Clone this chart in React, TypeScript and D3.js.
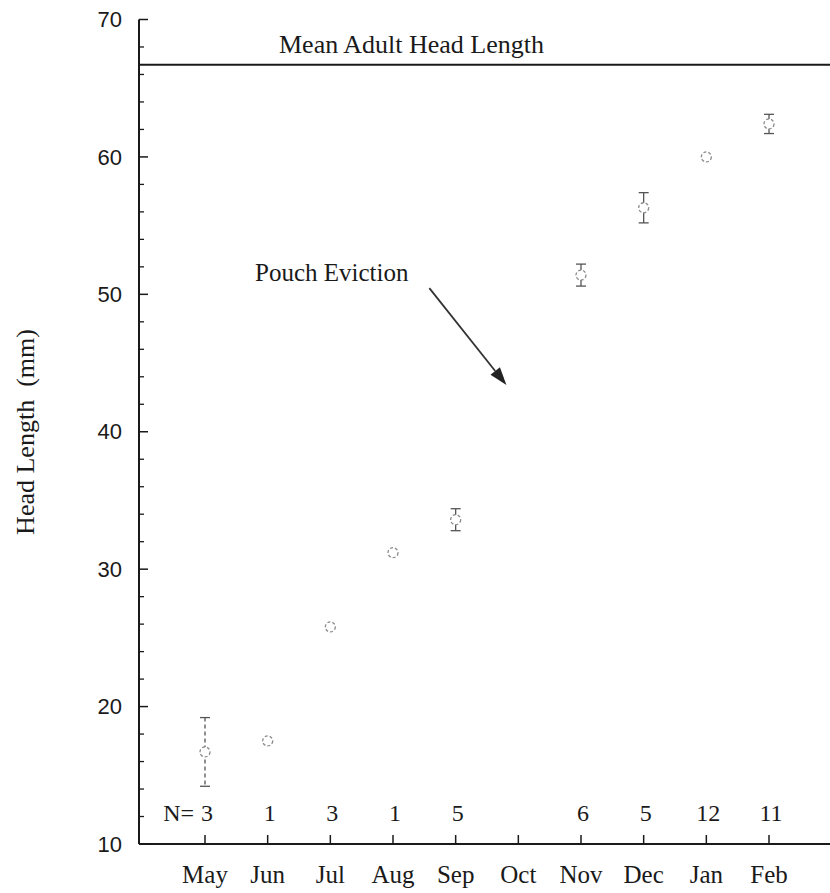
import React from "react";
import * as d3 from "d3";

const months = ["May", "Jun", "Jul", "Aug", "Sep", "Oct", "Nov", "Dec", "Jan", "Feb"];
const meanValues: (number | null)[] = [16.7, 17.5, 25.8, 31.2, 33.6, null, 51.4, 56.3, 60.0, 62.4];
const errValues: (number | null)[] = [2.5, 0, 0.2, 0.15, 0.8, null, 0.8, 1.1, 0.2, 0.7];
const nValues: string[] = ["3", "1", "3", "1", "5", "", "6", "5", "12", "11"];
const yTicks = [10, 20, 30, 40, 50, 60, 70];
const yMinorTicks = d3.range(10, 70, 2);
const adultMean = 66.7;
const arrowFrom = { idx: 3.58, value: 50.45 };
const arrowTo = { idx: 4.81, value: 43.4 };

export default function App() {
  const W = 830, H = 893;
  const axisX = 139;
  const y = d3.scaleLinear().domain([10, 70]).range([844, 19.5]);
  const x = d3.scalePoint<string>().domain(months).range([205, 769]);
  const step = x.step();
  const xi = (i: number) => (x(months[0]) as number) + i * step;
  const serif = "'Liberation Serif', 'Times New Roman', serif";
  const sans = "'Liberation Sans', Arial, sans-serif";
  const ink = "#1a1a1a";

  const ax1 = xi(arrowFrom.idx), ay1 = y(arrowFrom.value);
  const ax2 = xi(arrowTo.idx), ay2 = y(arrowTo.value);
  const ang = Math.atan2(ay2 - ay1, ax2 - ax1);
  const hl = 18, hw = 6;
  const bx = ax2 - hl * Math.cos(ang), by = ay2 - hl * Math.sin(ang);
  const px = -Math.sin(ang), py = Math.cos(ang);
  const head = `M${ax2},${ay2} L${bx + px * hw},${by + py * hw} L${bx - px * hw},${by - py * hw} Z`;

  return (
    <div style={{ position: "absolute", left: 0, top: 0 }}>
      <svg width={W} height={H} style={{ display: "block", background: "#fff" }}>
        {/* axes */}
        <line x1={axisX} x2={axisX} y1={y(70)} y2={y(10)} stroke={ink} strokeWidth={2} />
        <line x1={axisX} x2={W} y1={y(10)} y2={y(10)} stroke={ink} strokeWidth={2} />
        {yTicks.map((t) => (
          <g key={t}>
            <line x1={axisX} x2={axisX + 9} y1={y(t)} y2={y(t)} stroke={ink} strokeWidth={1.5} />
            <text x={122} y={y(t)} dy="0.35em" textAnchor="end" fontFamily={sans} fontSize={22} fill={ink}>{t}</text>
          </g>
        ))}
        {yMinorTicks.filter((t) => t % 10 !== 0).map((t) => (
          <line key={t} x1={axisX - 1} x2={axisX + 5} y1={y(t)} y2={y(t)} stroke={ink} strokeWidth={1.3} />
        ))}
        {months.map((m) => (
          <g key={m}>
            <line x1={x(m)} x2={x(m)} y1={y(10)} y2={y(10) - 9} stroke={ink} strokeWidth={1.5} />
            <text x={x(m)} y={883} textAnchor="middle" fontFamily={serif} fontSize={25} fill={ink}>{m}</text>
          </g>
        ))}
        {/* N labels */}
        <text x={194} y={821} textAnchor="end" fontFamily={serif} fontSize={24} fill={ink}>N=</text>
        {months.map((m, i) => nValues[i] ? (
          <text key={"n" + m} x={(x(m) as number) + 2} y={821} textAnchor="middle" fontFamily={serif} fontSize={24} fill={ink}>{nValues[i]}</text>
        ) : null)}
        {/* mean adult line */}
        <line x1={axisX} x2={W} y1={y(adultMean)} y2={y(adultMean)} stroke={ink} strokeWidth={2} />
        <text x={279} y={53} fontFamily={serif} fontSize={26} fill={ink}>Mean Adult Head Length</text>
        {/* y title */}
        <text transform={`translate(34,${432}) rotate(-90)`} textAnchor="middle" fontFamily={serif} fontSize={26} fill={ink}>{"Head Length\u00a0\u00a0(mm)"}</text>
        {/* data */}
        {months.map((m, i) => {
          const v = meanValues[i];
          if (v == null) return null;
          const e = errValues[i] || 0;
          const cx = x(m) as number;
          return (
            <g key={"d" + m}>
              {e > 0.3 && (
                <g stroke="#555" strokeWidth={1.3}>
                  <line x1={cx} x2={cx} y1={y(v + e)} y2={y(v - e)} strokeDasharray={i === 0 ? "4,3" : undefined} />
                  <line x1={cx - 5} x2={cx + 5} y1={y(v + e)} y2={y(v + e)} />
                  <line x1={cx - 5} x2={cx + 5} y1={y(v - e)} y2={y(v - e)} />
                </g>
              )}
              <circle cx={cx} cy={y(v)} r={5} fill="#fff" stroke="#8a8a8a" strokeWidth={1.3} strokeDasharray="3,2" />
            </g>
          );
        })}
        {/* annotation */}
        <text x={255} y={281} fontFamily={serif} fontSize={25} fill={ink}>Pouch Eviction</text>
        <line x1={ax1} y1={ay1} x2={bx} y2={by} stroke="#333" strokeWidth={1.8} />
        <path d={head} fill="#222" />
      </svg>
    </div>
  );
}
